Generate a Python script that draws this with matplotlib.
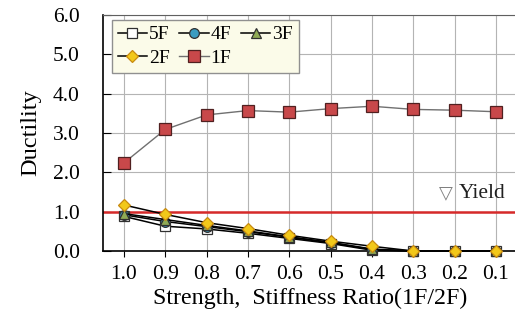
import numpy as np
import matplotlib
matplotlib.use("Agg")
import matplotlib.pyplot as plt

plt.rcParams['font.family'] = ['Liberation Serif', 'DejaVu Serif']

ratios = ["1.0", "0.9", "0.8", "0.7", "0.6", "0.5", "0.4", "0.3", "0.2", "0.1"]
duct_5f = [0.88, 0.63, 0.56, 0.45, 0.32, 0.19, 0.02, 0.0, 0.0, 0.0]
duct_4f = [0.92, 0.75, 0.62, 0.49, 0.35, 0.21, 0.04, 0.0, 0.0, 0.0]
duct_3f = [0.95, 0.80, 0.65, 0.51, 0.36, 0.22, 0.05, 0.0, 0.0, 0.0]
duct_2f = [1.17, 0.93, 0.72, 0.57, 0.40, 0.25, 0.12, 0.0, 0.0, 0.0]
duct_1f = [2.24, 3.09, 3.46, 3.57, 3.53, 3.62, 3.68, 3.60, 3.58, 3.54]
yield_level = 1.0

x = np.arange(len(ratios))

fig = plt.figure(figsize=(5.15, 3.22), dpi=100)
ax = fig.add_axes([103.3 / 515, 71 / 322, 413.3 / 515, 236 / 322])

ax.grid(True, color='#b4b4b4', linewidth=0.8)
ax.set_axisbelow(True)

ax.axhline(yield_level, color='#d62a2a', linewidth=1.8, zorder=2)

h5, = ax.plot(x, duct_5f, '-s', color='black', lw=1.1, ms=7, mfc='white',
              mec='#303030', mew=0.9, label='5F', clip_on=False, zorder=3)
h4, = ax.plot(x, duct_4f, '-o', color='black', lw=1.1, ms=7, mfc='#3a9cc0',
              mec='#303030', mew=0.9, label='4F', clip_on=False, zorder=3)
h3, = ax.plot(x, duct_3f, '-^', color='black', lw=1.1, ms=7, mfc='#8faa55',
              mec='#303030', mew=0.9, label='3F', clip_on=False, zorder=3)
h2, = ax.plot(x, duct_2f, '-D', color='black', lw=1.1, ms=6.5, mfc='#f2c81a',
              mec='#c88a10', mew=0.9, label='2F', clip_on=False, zorder=4)
h1, = ax.plot(x, duct_1f, '-s', color='#707070', lw=1.0, ms=8, mfc='#c8484a',
              mec='#502020', mew=0.9, label='1F', clip_on=False, zorder=4)

ax.text(7.95, 1.47, '\u25bd', fontsize=13, color='#808080', family=['DejaVu Sans'],
        ha='right', va='center')
ax.text(8.1, 1.47, 'Yield', fontsize=15.5, color='#202020', ha='left', va='center')

ax.set_xlim(-0.5, 9.5)
ax.set_ylim(0, 6)
ax.set_xticks(x)
ax.set_xticklabels(ratios)
ax.set_yticks(np.arange(0, 7, 1))
ax.set_yticklabels([f"{v:.1f}" for v in range(7)])
ax.tick_params(axis='x', direction='out', length=4, labelsize=15.5, pad=6)
ax.tick_params(axis='y', direction='in', length=6, labelsize=15.5, pad=17)

for s in ['left', 'bottom']:
    ax.spines[s].set_color('black')
    ax.spines[s].set_linewidth(1.2)
ax.spines['top'].set_color('#606060')
ax.spines['right'].set_visible(False)

ax.set_xlabel('Strength,  Stiffness Ratio(1F/2F)', fontsize=17.3, labelpad=3)
ax.set_ylabel('Ductility', fontsize=17.5, labelpad=8)

leg = ax.legend(handles=[h5, h2, h4, h1, h3], ncol=3, loc='upper left',
                bbox_to_anchor=(0.021, 0.979), fontsize=14, frameon=True,
                fancybox=False, handlelength=1.5, handletextpad=0.1,
                columnspacing=0.5, borderpad=0.3, labelspacing=0.3,
                borderaxespad=0)
leg.get_frame().set_facecolor('#fbfbe9')
leg.get_frame().set_edgecolor('#909090')
leg.get_frame().set_alpha(1)

fig.savefig('out.png', dpi=100)
